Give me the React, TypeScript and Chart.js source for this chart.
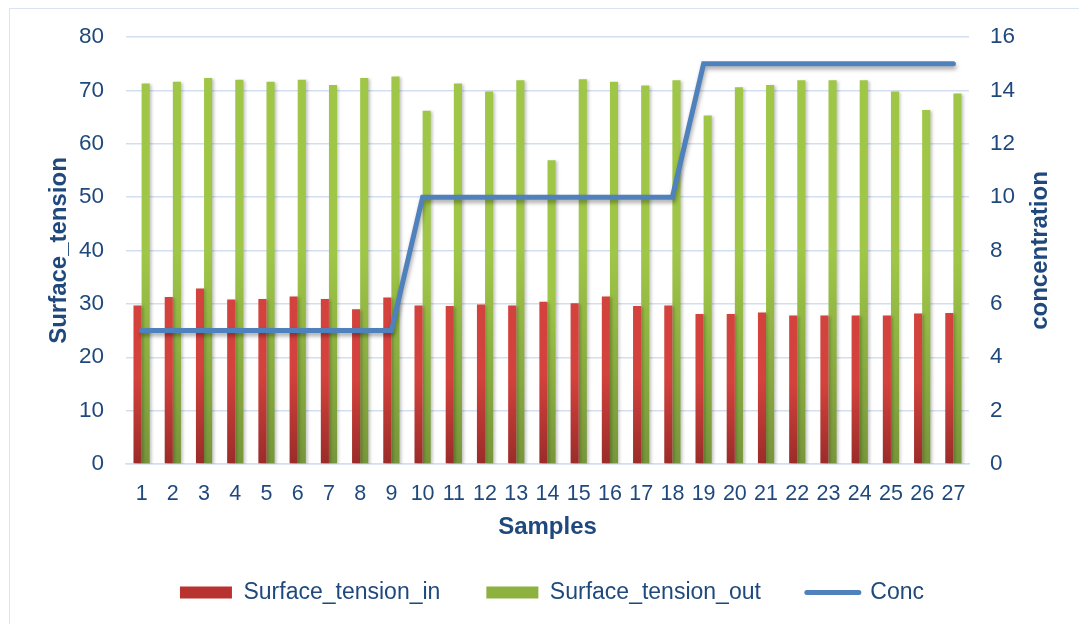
import React, { useEffect, useRef } from 'react';
import { Chart, registerables } from 'chart.js';

Chart.register(...registerables);

const samples = ['1', '2', '3', '4', '5', '6', '7', '8', '9', '10', '11', '12', '13', '14', '15', '16', '17', '18', '19', '20', '21', '22', '23', '24', '25', '26', '27'];
const surfaceTensionIn = [29.7, 31.3, 32.9, 30.8, 30.9, 31.4, 30.9, 29.0, 31.2, 29.7, 29.6, 29.9, 29.7, 30.4, 30.1, 31.4, 29.6, 29.7, 28.1, 28.1, 28.4, 27.8, 27.8, 27.8, 27.8, 28.2, 28.3];
const surfaceTensionOut = [71.3, 71.6, 72.3, 72.0, 71.6, 72.0, 71.0, 72.3, 72.6, 66.2, 71.3, 69.8, 71.9, 56.9, 72.1, 71.6, 70.9, 71.9, 65.3, 70.6, 71.0, 71.9, 71.9, 71.9, 69.8, 66.3, 69.4];
const conc = [5, 5, 5, 5, 5, 5, 5, 5, 5, 10, 10, 10, 10, 10, 10, 10, 10, 10, 15, 15, 15, 15, 15, 15, 15, 15, 15];
const rightTitle = 'concentration';

const FONT = '"Liberation Sans", Arial, sans-serif';
const TEXT = '#1f497d';
const GRID = '#d3dff0';

const barGradient = (top: string, bottom: string) => (ctx: any) => {
  const chart = ctx.chart;
  const area = chart.chartArea;
  if (!area || ctx.type !== 'data' || !chart.scales || !chart.scales.y) return bottom;
  const y = chart.scales.y;
  const yTop = y.getPixelForValue(ctx.raw);
  const yBot = y.getPixelForValue(0);
  if (!isFinite(yTop) || !isFinite(yBot) || yTop === yBot) return bottom;
  const g = chart.ctx.createLinearGradient(0, yTop, 0, yBot);
  g.addColorStop(0, top);
  g.addColorStop(0.45, top);
  g.addColorStop(1, bottom);
  return g;
};

const shadowPlugin = {
  id: 'shadowPlugin',
  beforeDatasetDraw(chart: any, args: any) {
    const ctx = chart.ctx;
    ctx.save();
    if (args.meta.type === 'line') {
      ctx.shadowColor = 'rgba(0,0,0,0.35)';
      ctx.shadowBlur = 4;
      ctx.shadowOffsetX = 1;
      ctx.shadowOffsetY = 3;
    } else {
      ctx.shadowColor = 'rgba(0,0,0,0.22)';
      ctx.shadowBlur = 3;
      ctx.shadowOffsetX = 2;
      ctx.shadowOffsetY = 1;
    }
  },
  afterDatasetDraw(chart: any) {
    chart.ctx.restore();
  },
};

// Right axis title drawn reading bottom-to-top, like the reference
const rightTitlePlugin = {
  id: 'rightTitlePlugin',
  afterDraw(chart: any) {
    const s = chart.scales.y1;
    const area = chart.chartArea;
    if (!s || !area) return;
    const ctx = chart.ctx;
    ctx.save();
    ctx.translate(s.right - 39, (area.top + area.bottom) / 2);
    ctx.rotate(-Math.PI / 2);
    ctx.fillStyle = TEXT;
    ctx.font = `bold 24px ${FONT}`;
    ctx.textAlign = 'center';
    ctx.textBaseline = 'middle';
    ctx.fillText(rightTitle, 0, 0);
    ctx.restore();
  },
};

export default function App() {
  const canvasRef = useRef<HTMLCanvasElement | null>(null);

  useEffect(() => {
    const canvas = canvasRef.current;
    if (!canvas) return;
    const chart = new Chart(canvas, {
      type: 'bar',
      data: {
        labels: samples,
        datasets: [
          {
            type: 'bar',
            label: 'Surface_tension_in',
            data: surfaceTensionIn,
            backgroundColor: barGradient('#d4423d', '#9a2c29'),
            borderWidth: 0,
            yAxisID: 'y',
            order: 1,
          },
          {
            type: 'bar',
            label: 'Surface_tension_out',
            data: surfaceTensionOut,
            backgroundColor: barGradient('#9fc647', '#77963a'),
            borderWidth: 0,
            yAxisID: 'y',
            order: 1,
          },
          {
            type: 'line',
            label: 'Conc',
            data: conc,
            borderColor: '#4f81bd',
            backgroundColor: '#4f81bd',
            borderWidth: 5,
            borderCapStyle: 'round',
            pointRadius: 0,
            tension: 0,
            yAxisID: 'y1',
            order: 0,
          },
        ] as any,
      },
      options: {
        responsive: false,
        animation: false,
        devicePixelRatio: 1,
        categoryPercentage: 0.52,
        barPercentage: 1,
        layout: { padding: { left: 25, right: 0, top: 37, bottom: 10 } },
        plugins: {
          tooltip: { enabled: false },
          legend: {
            position: 'bottom',
            labels: {
              usePointStyle: true,
              pointStyleWidth: 52,
              boxHeight: 12,
              padding: 46,
              color: TEXT,
              font: { family: FONT, size: 23 },
              generateLabels: (ch: any) => {
                const solid = ['#b8332f', '#8cb13f'];
                return ch.data.datasets.map((ds: any, i: number) => {
                  const isLine = ds.type === 'line';
                  return {
                    text: ds.label,
                    datasetIndex: i,
                    fillStyle: isLine ? '#4f81bd' : solid[i],
                    strokeStyle: isLine ? '#4f81bd' : solid[i],
                    lineWidth: isLine ? 5 : 0,
                    lineCap: 'round',
                    pointStyle: isLine ? 'line' : 'rect',
                    hidden: false,
                    fontColor: TEXT,
                  };
                });
              },
            },
          },
        },
        scales: {
          x: {
            grid: { display: false },
            border: { display: true, color: GRID, width: 1.5 },
            ticks: { color: TEXT, font: { family: FONT, size: 21.5 }, padding: 9, maxRotation: 0, autoSkip: false },
            title: {
              display: true,
              text: 'Samples',
              color: TEXT,
              font: { family: FONT, size: 24, weight: 'bold', lineHeight: 1 },
              padding: { top: 0, bottom: -4 },
            },
            afterFit: (s: any) => { s.height = 71; },
          },
          y: {
            position: 'left',
            min: 0,
            max: 80,
            ticks: { stepSize: 10, color: TEXT, font: { family: FONT, size: 22.5 }, padding: 22 },
            grid: { color: GRID, lineWidth: 1.5, drawTicks: false },
            border: { display: false },
            title: {
              display: true,
              text: 'Surface_tension',
              color: TEXT,
              font: { family: FONT, size: 24, weight: 'bold', lineHeight: 1 },
              padding: { top: 22, bottom: 0 },
            },
            afterFit: (s: any) => { s.width = 101; },
          },
          y1: {
            position: 'right',
            min: 0,
            max: 16,
            ticks: { stepSize: 2, color: TEXT, font: { family: FONT, size: 22.5 }, padding: 21 },
            grid: { drawOnChartArea: false, drawTicks: false },
            border: { display: false },
            title: { display: false },
            afterFit: (s: any) => { s.width = 110; },
          },
        },
      } as any,
      plugins: [shadowPlugin, rightTitlePlugin],
    });
    return () => chart.destroy();
  }, []);

  return (
    <div style={{ position: 'fixed', left: 0, top: 0, width: 1079, height: 624, background: '#ffffff' }}>
      <div
        style={{
          position: 'absolute',
          left: 9,
          top: 8,
          width: 1070,
          height: 616,
          borderLeft: '1px solid #d9e4f2',
          borderTop: '1px solid #d9e4f2',
          boxSizing: 'border-box',
        }}
      />
      <canvas ref={canvasRef} width={1079} height={624} style={{ position: 'absolute', left: 0, top: 0, width: 1079, height: 624 }} />
    </div>
  );
}
